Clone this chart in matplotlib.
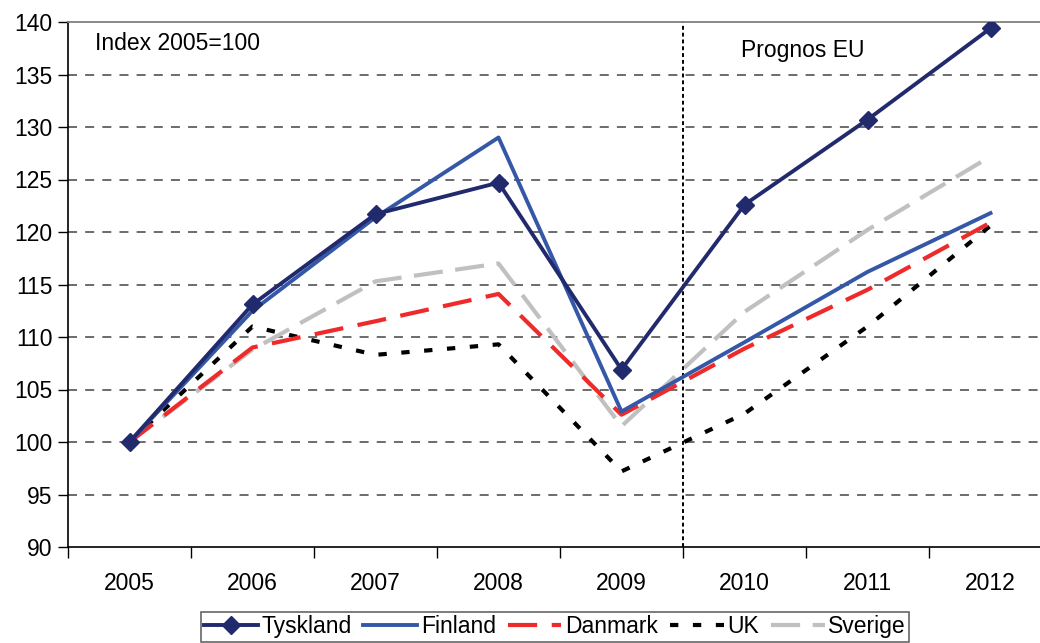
import matplotlib
matplotlib.use("Agg")
import matplotlib.pyplot as plt
import numpy as np

years = ["2005", "2006", "2007", "2008", "2009", "2010", "2011", "2012"]
tyskland = [100, 113.1, 121.7, 124.7, 106.9, 122.6, 130.7, 139.4]
finland = [100, 112.5, 121.4, 129.0, 102.9, 109.5, 116.2, 121.8]
danmark = [100, 109.0, 111.5, 114.1, 102.6, 108.9, 114.5, 120.9]
uk = [100, 111.0, 108.3, 109.3, 97.2, 102.7, 111.0, 120.6]
sverige = [100, 108.8, 115.3, 117.0, 101.5, 112.4, 120.2, 127.2]
yticks = list(range(90, 141, 5))
forecast_x = 4.5

plt.rcParams['font.family'] = ['Liberation Sans', 'DejaVu Sans']
FS = 16.5

fig = plt.figure(figsize=(10.4, 6.43), dpi=100)
ax = fig.add_axes([68/1040, 1-547/643, 984/1040, 525/643])
x = np.arange(len(years))

ax.set_xlim(-0.5, len(years) - 0.5)
ax.set_ylim(90, 140)
ax.set_yticks(yticks)
for v in yticks[1:-1]:
    ax.axhline(v, color='#606060', lw=1.3, dashes=(5, 4.5), zorder=1)

ax.plot(x, sverige, color='#C0C0C0', lw=3, dashes=(7, 3), label='Sverige', zorder=2)
ax.plot(x, uk, color='black', lw=3, dashes=(2, 3.5), label='UK', zorder=3)
ax.plot(x, danmark, color='#EE2A2A', lw=3, dashes=(7, 3.5), label='Danmark', zorder=4)
ax.plot(x, finland, color='#3457A8', lw=2.8, label='Finland', zorder=5)
ax.plot(x, tyskland, color='#222A6E', lw=2.8, marker='D', markersize=9, label='Tyskland', zorder=6)

ax.axvline(forecast_x, color='black', lw=1.4, dashes=(2, 1.5), zorder=2)

ax.set_xticks(x)
ax.set_xticklabels(years, fontsize=FS)
ax.set_xticks(np.arange(-0.5, len(years), 1), minor=True)
ax.tick_params(axis='x', which='major', length=0, pad=18)
ax.tick_params(axis='x', which='minor', length=8, width=1, direction='out')
ax.tick_params(axis='y', labelsize=FS, length=7, width=1, direction='out', pad=4)

ax.spines['right'].set_visible(False)
ax.spines['top'].set_color('#808080')
ax.spines['top'].set_linewidth(1.3)
ax.spines['left'].set_linewidth(1.2)
ax.spines['bottom'].set_linewidth(1.2)

fig.text(95/1040, 1-43/643, 'Index 2005=100', fontsize=FS, va='center', ha='left')
fig.text(741/1040, 1-50/643, 'Prognos EU', fontsize=FS, va='center', ha='left')

h, l = ax.get_legend_handles_labels()
order = ['Tyskland', 'Finland', 'Danmark', 'UK', 'Sverige']
hh = [h[l.index(o)] for o in order]
leg = fig.legend(hh, order, loc='upper center', bbox_to_anchor=(555/1040, 1-612/643),
                 ncol=5, fontsize=FS, frameon=True, fancybox=False, edgecolor='#404040',
                 handlelength=2.35, columnspacing=0.5, handletextpad=0.17, borderpad=0.15,
                 borderaxespad=0)
leg.get_frame().set_linewidth(1.2)

fig.savefig('out.png', dpi=100)
